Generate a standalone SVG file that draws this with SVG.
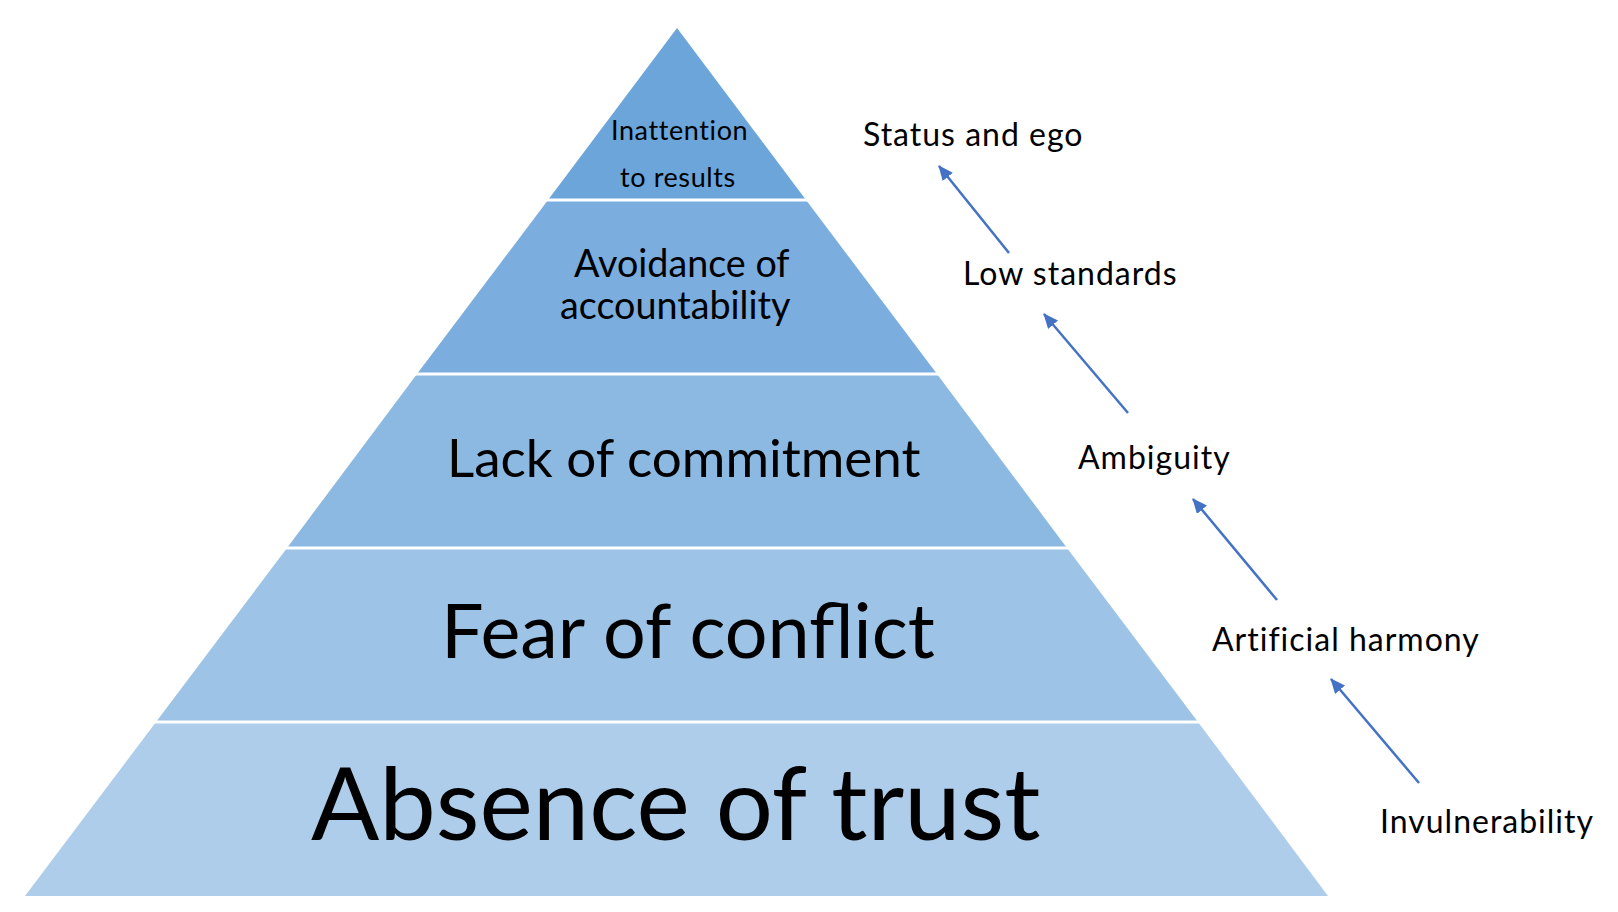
<svg xmlns="http://www.w3.org/2000/svg" width="1618" height="912" viewBox="0 0 1618 912">
<defs>
<style>
.t{font-family:Lato,"Noto Sans","Liberation Sans",sans-serif;fill:#000}
.s{font-size:32px;letter-spacing:1px}
.sep{stroke:#fff;stroke-width:3}
.arr{stroke:#4472c4;stroke-width:2.5;fill:none;marker-end:url(#ah)}
</style>
<marker id="ah" markerUnits="userSpaceOnUse" markerWidth="15" markerHeight="13" refX="14" refY="6.5" orient="auto">
<path d="M0,0 L15,6.5 L0,13 z" fill="#4472c4"/>
</marker>
</defs>
<g id="pyramid">
<g id="band5"><polygon points="156,722 1198,722 1328,896 25,896" fill="#aecdea"/>
<text class="t" x="311" y="840" font-size="101">Absence of trust</text></g>
<g id="band4"><polygon points="287,548 1067,548 1198,722 156,722" fill="#9dc3e6"/>
<text class="t" x="441" y="658" font-size="75.5">Fear of conflict</text></g>
<g id="band3"><polygon points="417,374 937,374 1067,548 287,548" fill="#8bb9e2"/>
<text class="t" x="447" y="477" font-size="53">Lack of commitment</text></g>
<g id="band2"><polygon points="548,200 806,200 937,374 417,374" fill="#7badde"/>
<text class="t" x="574" y="277" font-size="37.7">Avoidance of</text>
<text class="t" x="560" y="319" font-size="37.7">accountability</text></g>
<g id="band1"><polygon points="677,28 806,200 548,200" fill="#6ba5da"/>
<text class="t" x="611" y="140" font-size="27" letter-spacing="0.6">Inattention</text>
<text class="t" x="620" y="187" font-size="27" letter-spacing="0.6">to results</text></g>
<g id="separators">
<line class="sep" x1="530" y1="200" x2="825" y2="200"/>
<line class="sep" x1="400" y1="374" x2="955" y2="374"/>
<line class="sep" x1="270" y1="548" x2="1085" y2="548"/>
<line class="sep" x1="140" y1="722" x2="1215" y2="722"/>
</g>
</g>
<g id="label-status"><text class="t s" x="863" y="146">Status and ego</text></g>
<g id="label-low"><text class="t s" x="963" y="285">Low standards</text></g>
<g id="label-ambiguity"><text class="t s" x="1078" y="469">Ambiguity</text></g>
<g id="label-harmony"><text class="t s" x="1212" y="651">Artificial harmony</text></g>
<g id="label-invuln"><text class="t s" x="1380" y="833">Invulnerability</text></g>
<g id="connectors">
<line class="arr" x1="1009" y1="253" x2="939" y2="166"/>
<line class="arr" x1="1128" y1="413" x2="1044" y2="314"/>
<line class="arr" x1="1277" y1="600" x2="1193" y2="499"/>
<line class="arr" x1="1419" y1="783" x2="1331" y2="679"/>
</g>
</svg>
